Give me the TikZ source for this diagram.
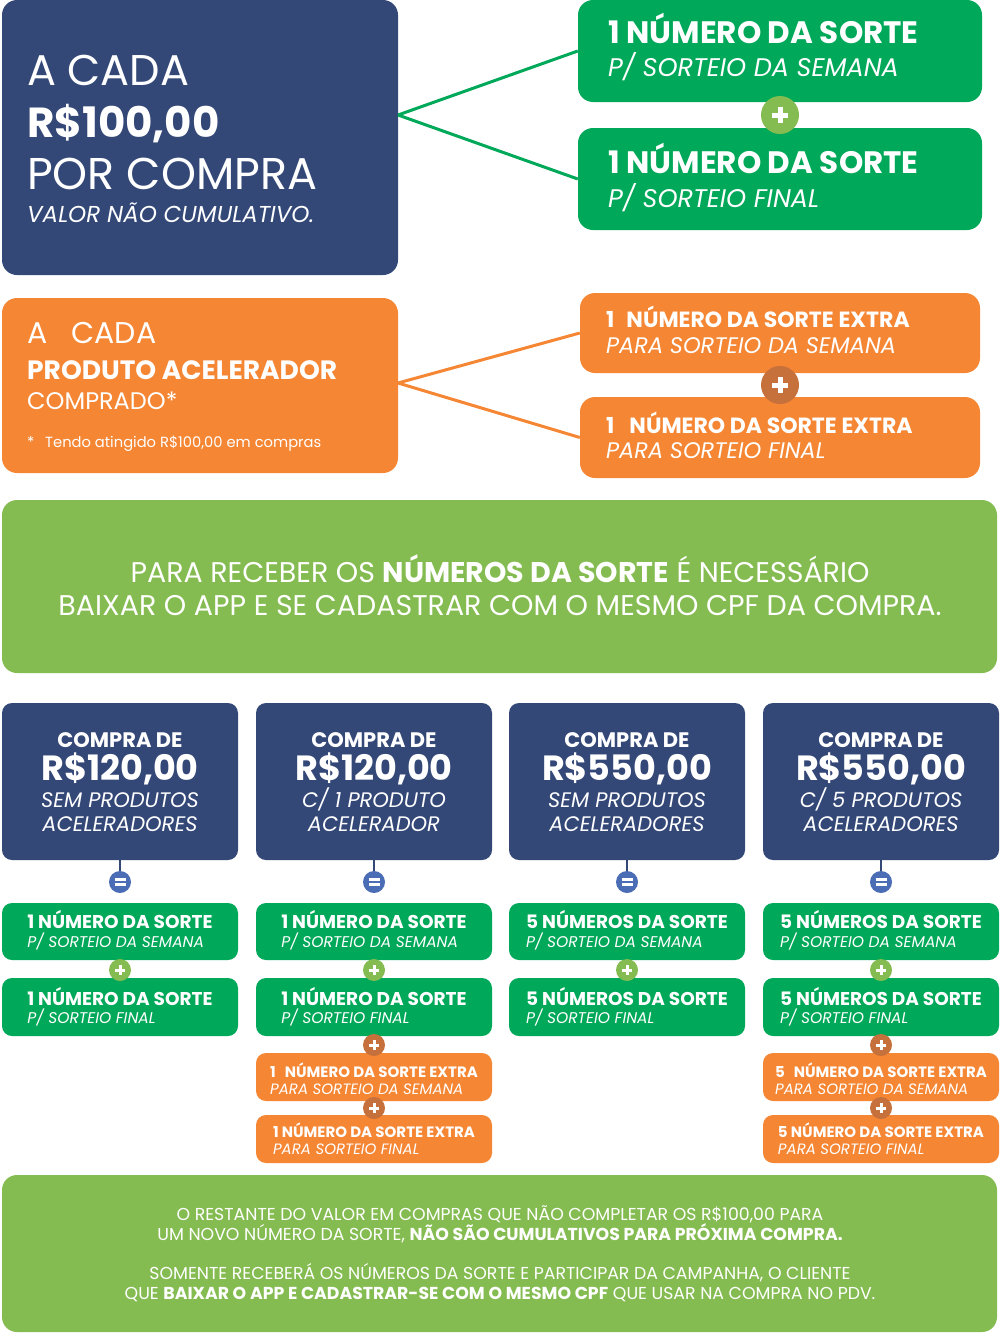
\documentclass[tikz,border=0pt]{standalone}
\usepackage{fontspec}
\setmainfont{Poppins}
\definecolor{navy}{HTML}{344878}
\definecolor{grn}{HTML}{00A859}
\definecolor{lgrn}{HTML}{84BC51}
\definecolor{org}{HTML}{F58634}
\definecolor{dorg}{HTML}{C6703B}
\definecolor{eqblue}{HTML}{4A6DB5}
\newcommand\fsz[1]{\fontsize{#1}{#1}\selectfont}
\tikzset{
  rbox/.style={rectangle, rounded corners=#1, inner sep=0pt, draw=none},
  txt/.style={inner sep=0pt, text=white, anchor=base west},
  ctxt/.style={inner sep=0pt, text=white, anchor=base},
  bigplus/.style={circle, inner sep=0pt, minimum size=38pt, fill=#1,
    path picture={\draw[white,line width=5pt] ([xshift=-8pt]path picture bounding box.center) -- ([xshift=8pt]path picture bounding box.center);
                  \draw[white,line width=5pt] ([yshift=-8pt]path picture bounding box.center) -- ([yshift=8pt]path picture bounding box.center);}},
  smallplus/.style={circle, inner sep=0pt, minimum size=22pt, fill=#1,
    path picture={\draw[white,line width=3pt] ([xshift=-5pt]path picture bounding box.center) -- ([xshift=5pt]path picture bounding box.center);
                  \draw[white,line width=3pt] ([yshift=-5pt]path picture bounding box.center) -- ([yshift=5pt]path picture bounding box.center);}},
  eqc/.style={circle, inner sep=0pt, minimum size=22pt, fill=eqblue,
    path picture={\draw[white,line width=2.4pt] ([xshift=-5.5pt,yshift=-2.6pt]path picture bounding box.center) -- ([xshift=5.5pt,yshift=-2.6pt]path picture bounding box.center);
                  \draw[white,line width=2.4pt] ([xshift=-5.5pt,yshift=2.6pt]path picture bounding box.center) -- ([xshift=5.5pt,yshift=2.6pt]path picture bounding box.center);}},
  glink/.style={draw=grn, line width=3pt},
  olink/.style={draw=org, line width=3pt},
  stemline/.style={draw=navy, line width=2.5pt},
}
\newcommand\buycol[6]{%
  \node[rbox=10pt, fill=navy, minimum width=236pt, minimum height=157pt] (n#1) at (#2,781.5) {};
  \node[ctxt, font=\fsz{21}\bfseries] (n#1a) at (#2,747) {COMPRA DE};
  \node[ctxt, font=\fsz{35}\bfseries] (n#1b) at (#2,780) {#3};
  \node[ctxt, font=\fsz{21}\itshape] (n#1c) at (#2,807) {#4};
  \node[ctxt, font=\fsz{21}\itshape] (n#1d) at (#2,831) {#5};
  \node[eqc] (e#1) at (#2,882) {};
  \draw[stemline] (n#1) -- (e#1);
  \node[rbox=10pt, fill=grn, minimum width=236pt, minimum height=57pt] (ga#1) at (#2,931.5) {};
  \node[ctxt, font=\fsz{18.5}\bfseries] (ga#1t) at (#2,928) {#6 DA SORTE};
  \path (ga#1t.base west) ++(0,19) node[txt, font=\fsz{15.5}\itshape] (ga#1s) {P/ SORTEIO DA SEMANA};
  \node[rbox=10pt, fill=grn, minimum width=236pt, minimum height=58pt] (gb#1) at (#2,1007) {};
  \node[ctxt, font=\fsz{18.5}\bfseries] (gb#1t) at (#2,1005) {#6 DA SORTE};
  \path (gb#1t.base west) ++(0,18) node[txt, font=\fsz{15.5}\itshape] (gb#1s) {P/ SORTEIO FINAL};
  \node[smallplus=lgrn] (p#1) at (#2,970) {};
}
\newcommand\extcol[3]{%
  \node[rbox=10pt, fill=org, minimum width=236pt, minimum height=48pt] (oa#1) at (#2,1077) {};
  \node[ctxt, font=\fsz{15}\bfseries] (oa#1t) at (#2,1077) {#3\hspace{9pt}NÚMERO DA SORTE EXTRA};
  \path (oa#1t.base west) ++(0,17) node[txt, font=\fsz{15}\itshape] (oa#1s) {PARA SORTEIO DA SEMANA};
  \node[rbox=10pt, fill=org, minimum width=236pt, minimum height=48pt] (ob#1) at (#2,1139) {};
  \node[ctxt, font=\fsz{15}\bfseries] (ob#1t) at (#2,1137) {#3 NÚMERO DA SORTE EXTRA};
  \path (ob#1t.base west) ++(0,17) node[txt, font=\fsz{15}\itshape] (ob#1s) {PARA SORTEIO FINAL};
  \node[smallplus=dorg] (q#1) at (#2,1045) {};
  \node[smallplus=dorg] (r#1) at (#2,1108) {};
}
\begin{document}
\begin{tikzpicture}[x=1pt,y=-1pt]
\useasboundingbox (0,0) rectangle (1000,1333);
% ---- top navy block
\node[rbox=15pt, fill=navy, minimum width=396pt, minimum height=275pt] (A) at (200,137.5) {};
\node[txt, font=\fsz{43}] (A1) at (27,85) {A CADA};
\node[txt, font=\fsz{42}\bfseries] (A2) at (27,137) {R\$100,00};
\node[txt, font=\fsz{44.5}] (A3) at (27,189) {POR COMPRA};
\node[txt, font=\fsz{23}\itshape] (A4) at (27,222) {VALOR NÃO CUMULATIVO.};
\node[rbox=15pt, fill=grn, minimum width=404pt, minimum height=102pt] (G1) at (780,51) {};
\node[txt, font=\fsz{31}\bfseries] (G1a) at (608,43) {1 NÚMERO DA SORTE};
\node[txt, font=\fsz{25.5}\itshape] (G1b) at (608,76) {P/ SORTEIO DA SEMANA};
\node[rbox=15pt, fill=grn, minimum width=404pt, minimum height=102pt] (G2) at (780,179) {};
\node[txt, font=\fsz{31}\bfseries] (G2a) at (608,173) {1 NÚMERO DA SORTE};
\node[txt, font=\fsz{25.5}\itshape] (G2b) at (608,207) {P/ SORTEIO FINAL};
\coordinate (Aj) at (398,115);
\draw[glink] (Aj) -- (G1.west);
\draw[glink] (Aj) -- (G2.west);
\node[bigplus=lgrn] (P1) at (780,115) {};
% ---- orange block
\node[rbox=15pt, fill=org, minimum width=396pt, minimum height=175pt] (O) at (200,385.5) {};
\node[txt, font=\fsz{30}] (O1) at (27,343) {A\hspace{24pt}CADA};
\node[txt, font=\fsz{26.5}\bfseries] (O2) at (27,379) {PRODUTO ACELERADOR};
\node[txt, font=\fsz{24}] (O3) at (27,409) {COMPRADO*};
\node[txt, font=\fsz{15}] (O4) at (27,447) {*};
\node[txt, font=\fsz{14.7}] (O5) at (45,447) {Tendo atingido R\$100,00 em compras};
\node[rbox=15pt, fill=org, minimum width=400pt, minimum height=80pt] (R1) at (780,333) {};
\node[txt, font=\fsz{22}\bfseries] (R1a) at (606,327) {1\hspace{12pt}NÚMERO DA SORTE EXTRA};
\node[txt, font=\fsz{22.5}\itshape] (R1b) at (606,353) {PARA SORTEIO DA SEMANA};
\node[rbox=15pt, fill=org, minimum width=400pt, minimum height=81pt] (R2) at (780,437.5) {};
\node[txt, font=\fsz{22}\bfseries] (R2a) at (606,433) {1\hspace{15pt}NÚMERO DA SORTE EXTRA};
\node[txt, font=\fsz{22.5}\itshape] (R2b) at (606,458) {PARA SORTEIO FINAL};
\coordinate (Oj) at (398,383);
\draw[olink] (Oj) -- (R1.west);
\draw[olink] (Oj) -- (R2.west);
\node[bigplus=dorg] (P2) at (780,385) {};
% ---- green band
\node[rbox=15pt, fill=lgrn, minimum width=995pt, minimum height=173pt] (B) at (499.5,586.5) {};
\node[ctxt, font=\fsz{28.5}] (B1) at (500,582) {PARA RECEBER OS \textbf{NÚMEROS DA SORTE} É NECESSÁRIO};
\node[ctxt, font=\fsz{28.5}] (B2) at (500,615) {BAIXAR O APP E SE CADASTRAR COM O MESMO CPF DA COMPRA.};
% ---- columns
\buycol{1}{120}{R\$120,00}{SEM PRODUTOS}{ACELERADORES}{1 NÚMERO}
\buycol{2}{374}{R\$120,00}{C/ 1 PRODUTO}{ACELERADOR}{1 NÚMERO}
\buycol{3}{627}{R\$550,00}{SEM PRODUTOS}{ACELERADORES}{5 NÚMEROS}
\buycol{4}{881}{R\$550,00}{C/ 5 PRODUTOS}{ACELERADORES}{5 NÚMEROS}
\extcol{2}{374}{1}
\extcol{4}{881}{5}
% ---- bottom band
\node[rbox=15pt, fill=lgrn, minimum width=995pt, minimum height=157pt] (F) at (499.5,1253.5) {};
\node[ctxt, font=\fsz{17.3}] (F1) at (500,1220) {O RESTANTE DO VALOR EM COMPRAS QUE NÃO COMPLETAR OS R\$100,00 PARA};
\node[ctxt, font=\fsz{17.3}] (F2) at (500,1240) {UM NOVO NÚMERO DA SORTE, \textbf{NÃO SÃO CUMULATIVOS PARA PRÓXIMA COMPRA.}};
\node[ctxt, font=\fsz{17.3}] (F3) at (500,1279) {SOMENTE RECEBERÁ OS NÚMEROS DA SORTE E PARTICIPAR DA CAMPANHA, O CLIENTE};
\node[ctxt, font=\fsz{17.3}] (F4) at (500,1299) {QUE \textbf{BAIXAR O APP E CADASTRAR-SE COM O MESMO CPF} QUE USAR NA COMPRA NO PDV.};
\end{tikzpicture}
\end{document}
